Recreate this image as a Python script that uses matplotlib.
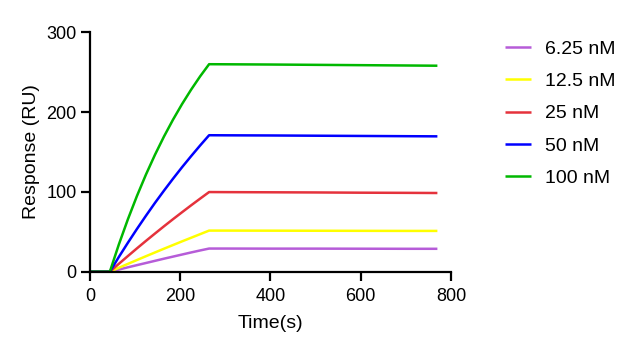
import matplotlib
matplotlib.use("Agg")
import matplotlib.pyplot as plt

plt.rcParams['font.family'] = ['Liberation Sans', 'DejaVu Sans']

time_s = [0, 44, 64, 84, 104, 124, 144, 164, 184, 204, 224, 244, 264,
          300, 400, 500, 600, 700, 770]

labels = ["6.25 nM", "12.5 nM", "25 nM", "50 nM", "100 nM"]
colors = ["#B65CD8", "#FFFF00", "#E5323C", "#0000FF", "#00B800"]

resp_6_25 = [0, 0, 2.7, 5.5, 8.2, 10.9, 13.6, 16.3, 18.9, 21.5, 24.1, 26.6, 29.0,
             29.0, 28.9, 28.9, 28.8, 28.7, 28.7]
resp_12_5 = [0, 0, 4.9, 9.8, 14.6, 19.4, 24.1, 28.8, 33.4, 38.0, 42.5, 47.0, 51.5,
             51.5, 51.4, 51.3, 51.2, 51.1, 51.1]
resp_25 = [0, 0, 9.9, 19.6, 29.2, 38.6, 47.8, 56.9, 65.8, 74.5, 83.1, 91.5, 99.8,
           99.7, 99.5, 99.3, 99.0, 98.8, 98.6]
resp_50 = [0, 0, 18.5, 36.3, 53.5, 70.1, 86.2, 101.6, 116.5, 130.9, 144.7, 158.1, 171.0,
           170.9, 170.7, 170.4, 170.1, 169.8, 169.6]
resp_100 = [0, 0, 34.2, 65.7, 94.8, 121.7, 146.5, 169.4, 190.5, 210.0, 228.0, 244.7, 260.0,
            259.9, 259.6, 259.2, 258.8, 258.4, 258.1]

series = [resp_6_25, resp_12_5, resp_25, resp_50, resp_100]

fig = plt.figure(figsize=(6.36, 3.54), dpi=100)
ax = fig.add_axes([0.1415, 0.2325, 0.5675, 0.6763])

for vals, lab, col in zip(series, labels, colors):
    ax.plot(time_s, vals, color=col, lw=1.8, label=lab, solid_capstyle='butt')

ax.set_xlim(0, 800)
ax.set_ylim(0, 300)
ax.set_xticks([0, 200, 400, 600, 800])
ax.set_yticks([0, 100, 200, 300])
for s in ['top', 'right']:
    ax.spines[s].set_visible(False)
for s in ['left', 'bottom']:
    ax.spines[s].set_linewidth(1.6)
ax.tick_params(axis='both', direction='out', length=6.5, width=1.6, labelsize=13)
ax.tick_params(axis='x', pad=5.5)
ax.tick_params(axis='y', pad=3)
ax.set_xlabel("Time(s)", fontsize=14, labelpad=7)
ax.set_ylabel("Response (RU)", fontsize=14, labelpad=5)

leg = ax.legend(loc='upper left', bbox_to_anchor=(0.794, 0.887),
                bbox_transform=fig.transFigure, frameon=False, fontsize=14,
                handlelength=1.34, handletextpad=0.72, labelspacing=0.76,
                borderaxespad=0, borderpad=0)

fig.savefig("out.png", dpi=100)
